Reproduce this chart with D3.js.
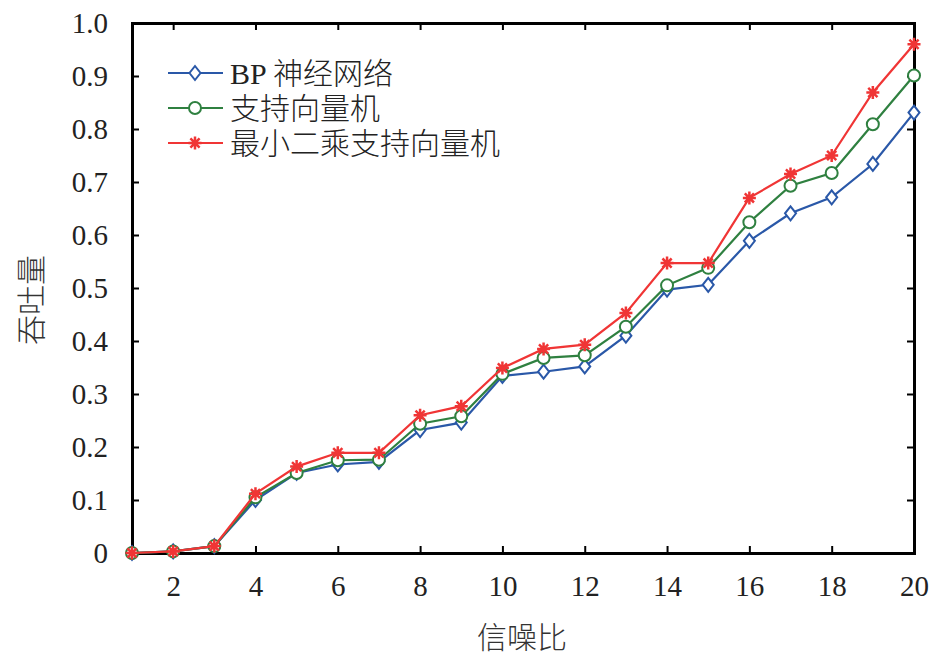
<!DOCTYPE html>
<html>
<head>
<meta charset="utf-8">
<script src="https://cdn.jsdelivr.net/npm/d3@7"></script>
<style>
  body { margin: 0; background: #fff; }
  svg { display: block; }
  .cjk { font-family: "Noto Sans CJK SC", sans-serif; font-weight: 300; }
</style>
</head>
<body>
<div id="chart"></div>
<script>
// signal-to-noise ratio (x) and throughput for each method
const snr = [1, 2, 3, 4, 5, 6, 7, 8, 9, 10, 11, 12, 13, 14, 15, 16, 17, 18, 19, 20];
const bpValues = [0, 0.003, 0.013, 0.100, 0.151, 0.167, 0.172, 0.232, 0.246, 0.334, 0.342, 0.352, 0.410, 0.497, 0.506, 0.589, 0.641, 0.671, 0.734, 0.831];
const svmValues = [0, 0.003, 0.013, 0.105, 0.151, 0.175, 0.176, 0.244, 0.258, 0.338, 0.368, 0.373, 0.427, 0.505, 0.538, 0.624, 0.693, 0.717, 0.809, 0.901];
const lssvmValues = [0, 0.003, 0.013, 0.112, 0.163, 0.189, 0.189, 0.260, 0.277, 0.349, 0.385, 0.393, 0.453, 0.547, 0.547, 0.670, 0.715, 0.750, 0.869, 0.960];
const xTicks = [2, 4, 6, 8, 10, 12, 14, 16, 18, 20];
const yTicks = [0, 0.1, 0.2, 0.3, 0.4, 0.5, 0.6, 0.7, 0.8, 0.9, 1.0];

const series = [
    { name: "BP 神经网络", values: bpValues, color: "#2a58a8", marker: "diamond" },
    { name: "支持向量机", values: svmValues, color: "#2f8040", marker: "circle" },
    { name: "最小二乘支持向量机", values: lssvmValues, color: "#f03535", marker: "star" }
];

const serif = '"Liberation Serif", "Times New Roman", serif';
const W = 946, H = 658;
const margin = { top: 23, right: 32, bottom: 105, left: 132 };
const width = W - margin.left - margin.right;
const height = H - margin.top - margin.bottom;

const svg = d3.select("#chart").append("svg")
    .attr("width", W)
    .attr("height", H);

const g = svg.append("g")
    .attr("transform", `translate(${margin.left},${margin.top})`);

const x = d3.scaleLinear().domain([1, 20]).range([0, width]);
const y = d3.scaleLinear().domain([0, 1]).range([height, 0]);

const tickLen = 7;
const yFmt = d => d === 0 ? "0" : d3.format(".1f")(d);

// bottom axis with labels, inward ticks
const xAxis = g.append("g")
    .attr("transform", `translate(0,${height})`)
    .call(d3.axisBottom(x).tickValues(xTicks).tickSize(-tickLen).tickPadding(22));
// top mirror
const xTop = g.append("g")
    .call(d3.axisTop(x).tickValues(xTicks).tickSize(-tickLen).tickFormat(""));
// left axis with labels
const yAxis = g.append("g")
    .call(d3.axisLeft(y).tickValues(yTicks).tickSize(-tickLen).tickPadding(24).tickFormat(yFmt));
// right mirror
const yRight = g.append("g")
    .attr("transform", `translate(${width},0)`)
    .call(d3.axisRight(y).tickValues(yTicks).tickSize(-tickLen).tickFormat(""));

[xAxis, xTop, yAxis, yRight].forEach(a => {
    a.attr("font-family", null);
    a.select(".domain").attr("stroke", "#000").attr("stroke-width", 3);
    a.selectAll(".tick line").attr("stroke", "#000").attr("stroke-width", 2);
    a.selectAll(".tick text")
        .style("font-family", serif)
        .style("font-size", "29px")
        .attr("fill", "#222");
});
xAxis.selectAll(".tick text").attr("dy", "0.71em");
yAxis.selectAll(".tick text").attr("dy", "0.34em");

// axis titles
svg.append("text")
    .attr("class", "cjk")
    .attr("x", margin.left + width / 2 - 1)
    .attr("y", 648)
    .attr("text-anchor", "middle")
    .style("font-size", "30px")
    .attr("fill", "#333")
    .text("信噪比");

svg.append("text")
    .attr("class", "cjk")
    .attr("transform", "translate(42,300) rotate(-90)")
    .attr("text-anchor", "middle")
    .style("font-size", "30px")
    .attr("fill", "#333")
    .text("吞吐量");

const line = d3.line()
    .x((d, i) => x(snr[i]))
    .y(d => y(d));

function drawMarker(sel, type, color) {
    if (type === "diamond") {
        sel.append("path")
            .attr("d", "M0,-7L5.5,0L0,7L-5.5,0Z")
            .attr("fill", "#fff")
            .attr("stroke", color)
            .attr("stroke-width", 2);
    } else if (type === "circle") {
        sel.append("circle")
            .attr("r", 6)
            .attr("fill", "#fff")
            .attr("stroke", color)
            .attr("stroke-width", 2);
    } else {
        const r = 6.5;
        let d = "";
        for (let k = 0; k < 4; k++) {
            const a = k * Math.PI / 4;
            d += `M${-r * Math.cos(a)},${-r * Math.sin(a)}L${r * Math.cos(a)},${r * Math.sin(a)}`;
        }
        sel.append("path")
            .attr("d", d)
            .attr("stroke", color)
            .attr("stroke-width", 2.5)
            .attr("fill", "none");
    }
}

series.forEach(s => {
    g.append("path")
        .datum(s.values)
        .attr("fill", "none")
        .attr("stroke", s.color)
        .attr("stroke-width", 2.2)
        .attr("d", line);

    g.selectAll(null)
        .data(s.values)
        .enter()
        .append("g")
        .attr("transform", (d, i) => `translate(${x(snr[i])},${y(d)})`)
        .each(function() { drawMarker(d3.select(this), s.marker, s.color); });
});

// legend
const legend = svg.append("g").attr("transform", "translate(168,73)");
series.forEach((s, i) => {
    const row = legend.append("g").attr("transform", `translate(0,${i * 35})`);
    row.append("line")
        .attr("x1", 0).attr("x2", 55)
        .attr("stroke", s.color)
        .attr("stroke-width", 2.2);
    drawMarker(row.append("g").attr("transform", "translate(27,0)"), s.marker, s.color);
    const t = row.append("text")
        .attr("x", 62)
        .attr("y", 0)
        .attr("dy", "0.36em")
        .style("font-size", "30px")
        .attr("fill", "#222");
    if (s.name.startsWith("BP")) {
        t.append("tspan").style("font-family", serif).text("BP ");
        t.append("tspan").attr("class", "cjk").text(s.name.slice(3));
    } else {
        t.attr("class", "cjk").text(s.name);
    }
});
</script>
</body>
</html>
